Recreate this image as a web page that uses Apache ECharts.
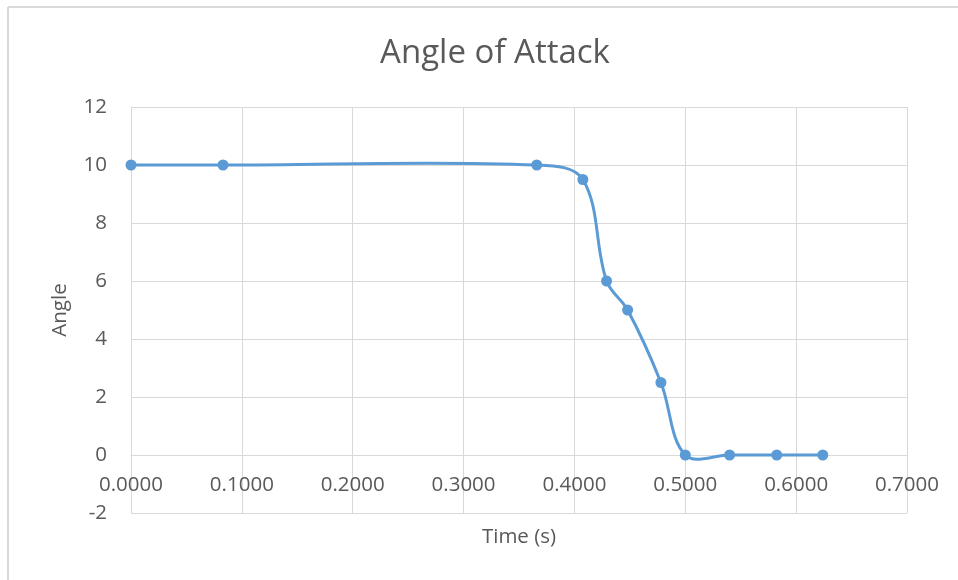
<!DOCTYPE html>
<html>
<head>
<meta charset="utf-8">
<title>Angle of Attack</title>
<script src="https://cdn.jsdelivr.net/npm/echarts@6/dist/echarts.min.js"></script>
<style>
  html, body { margin: 0; padding: 0; background: #ffffff; }
  #chart { width: 958px; height: 580px; }
</style>
</head>
<body>
<div id="chart"></div>
<script>
// Time samples (s) and angle of attack (deg)
const timeValues = [0.0, 0.083, 0.366, 0.4076, 0.429, 0.448, 0.478, 0.5, 0.54, 0.5825, 0.624];
const angleValues = [10, 10, 10, 9.5, 6, 5, 2.5, 0, 0, 0, 0];

// Axis ranges and tick steps
const xMin = 0, xMax = 0.7, xStep = 0.1;
const yMin = -2, yMax = 12, yStep = 2;

const textColor = '#595959';
const gridColor = '#d9d9d9';
const lineColor = '#5b9bd5';
const fontFamily = '"Open Sans", "Noto Sans", sans-serif';
const tickFont = 20.5;

const points = timeValues.map((t, i) => [t, angleValues[i]]);

// Smoothed curve through all samples: cubic Bezier segments; each tangent
// follows the neighbouring samples and is split by the adjacent segment lengths.
const SMOOTH = 0.36;
function renderSmoothCurve(params, api) {
  if (params.dataIndex !== 0) return null;
  const px = points.map(p => api.coord(p));
  const n = px.length;
  const dist = (a, b) => Math.hypot(b[0] - a[0], b[1] - a[1]);
  // control points on either side of each sample
  const before = [], after = [];
  for (let i = 0; i < n; i++) {
    const prev = px[Math.max(i - 1, 0)];
    const next = px[Math.min(i + 1, n - 1)];
    const cur = px[i];
    const vx = next[0] - prev[0], vy = next[1] - prev[1];
    const dPrev = dist(prev, cur), dNext = dist(cur, next);
    const sum = dPrev + dNext || 1;
    const kb = SMOOTH * dPrev / sum, ka = SMOOTH * dNext / sum;
    before.push([cur[0] - vx * kb, cur[1] - vy * kb]);
    after.push([cur[0] + vx * ka, cur[1] + vy * ka]);
  }
  let d = 'M' + px[0][0] + ' ' + px[0][1];
  for (let i = 0; i < n - 1; i++) {
    const c1 = after[i], c2 = before[i + 1], p = px[i + 1];
    d += ' C' + c1[0] + ' ' + c1[1] + ' ' + c2[0] + ' ' + c2[1] + ' ' + p[0] + ' ' + p[1];
  }
  return {
    type: 'path',
    shape: { pathData: d },
    style: { fill: 'none', stroke: lineColor, lineWidth: 3, lineJoin: 'round', lineCap: 'round' }
  };
}

const chart = echarts.init(document.getElementById('chart'), null, { renderer: 'canvas' });

chart.setOption({
  backgroundColor: '#ffffff',
  animation: false,
  title: {
    text: 'Angle of Attack',
    left: 490,
    top: 32,
    textAlign: 'center',
    textStyle: {
      color: textColor,
      fontFamily: fontFamily,
      fontSize: 33,
      fontWeight: 'normal'
    }
  },
  graphic: [
    { type: 'line', shape: { x1: 8, y1: 7, x2: 958, y2: 7 }, style: { stroke: '#d9d9d9', lineWidth: 2 } },
    { type: 'line', shape: { x1: 8, y1: 7, x2: 8, y2: 580 }, style: { stroke: '#d9d9d9', lineWidth: 2 } }
  ],
  grid: {
    left: 131,
    right: 51,
    top: 107,
    bottom: 67,
    outerBoundsMode: 'none'
  },
  xAxis: {
    type: 'value',
    min: xMin,
    max: xMax,
    interval: xStep,
    name: 'Time (s)',
    nameLocation: 'middle',
    nameGap: 14,
    nameTextStyle: { color: textColor, fontFamily: fontFamily, fontSize: tickFont },
    axisLine: { show: true, lineStyle: { color: gridColor, width: 1 } },
    axisTick: { show: false },
    // tick labels sit just under the zero line, inside the plot
    axisLabel: {
      color: textColor,
      fontFamily: fontFamily,
      fontSize: tickFont,
      margin: -38,
      formatter: v => v.toFixed(4)
    },
    splitLine: { show: true, lineStyle: { color: gridColor, width: 1 } }
  },
  yAxis: {
    type: 'value',
    min: yMin,
    max: yMax,
    interval: yStep,
    name: 'Angle',
    nameLocation: 'middle',
    nameGap: 60,
    nameRotate: 90,
    nameTextStyle: { color: textColor, fontFamily: fontFamily, fontSize: tickFont },
    axisLine: { show: true, onZero: false, lineStyle: { color: gridColor, width: 1 } },
    axisTick: { show: false },
    axisLabel: {
      color: textColor,
      fontFamily: fontFamily,
      fontSize: tickFont,
      margin: 24
    },
    splitLine: { show: true, lineStyle: { color: gridColor, width: 1 } }
  },
  series: [
    {
      type: 'custom',
      data: points,
      renderItem: renderSmoothCurve,
      clip: false,
      silent: true,
      z: 2
    },
    {
      type: 'scatter',
      data: points,
      symbol: 'circle',
      symbolSize: 11,
      itemStyle: { color: lineColor, opacity: 1 },
      z: 3
    }
  ]
});
</script>
</body>
</html>
